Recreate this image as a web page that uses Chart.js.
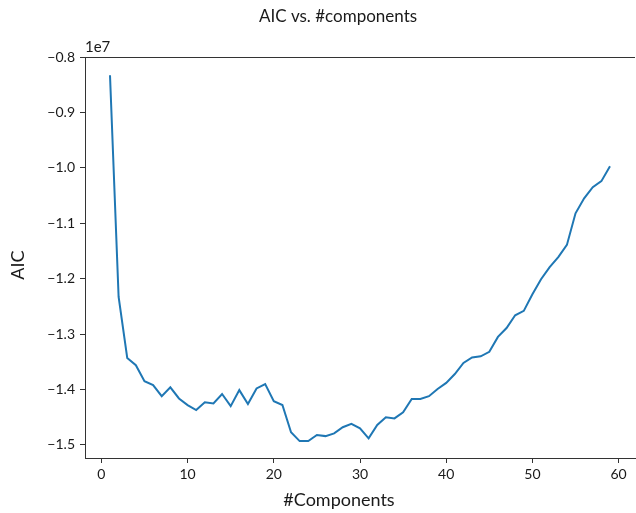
<!DOCTYPE html>
<html>
<head>
<meta charset="utf-8">
<script src="https://cdn.jsdelivr.net/npm/chart.js@4/dist/chart.umd.min.js"></script>
<style>
    html, body { margin: 0; padding: 0; background: #fff; }
    canvas { display: block; }
</style>
</head>
<body>
<canvas id="chart" width="636" height="513"></canvas>
<script>
// number of mixture components tried
const components = [
    1, 2, 3, 4, 5, 6, 7, 8, 9, 10,
    11, 12, 13, 14, 15, 16, 17, 18, 19, 20,
    21, 22, 23, 24, 25, 26, 27, 28, 29, 30,
    31, 32, 33, 34, 35, 36, 37, 38, 39, 40,
    41, 42, 43, 44, 45, 46, 47, 48, 49, 50,
    51, 52, 53, 54, 55, 56, 57, 58, 59,
];

// AIC, in units of 1e7 (as shown by the axis offset)
const aic = [
    -0.833, -1.233, -1.343, -1.356, -1.385, -1.392, -1.412, -1.396, -1.416, -1.428,
    -1.437, -1.423, -1.425, -1.408, -1.430, -1.401, -1.426, -1.398, -1.390, -1.421,
    -1.428, -1.477, -1.493, -1.493, -1.482, -1.484, -1.479, -1.468, -1.462, -1.470,
    -1.488, -1.464, -1.450, -1.452, -1.441, -1.417, -1.417, -1.412, -1.399, -1.388,
    -1.372, -1.352, -1.342, -1.340, -1.332, -1.305, -1.289, -1.266, -1.258, -1.228,
    -1.201, -1.179, -1.161, -1.139, -1.082, -1.055, -1.035, -1.024, -0.997,
];

const xTicks = [0, 10, 20, 30, 40, 50, 60];
const yTicks = [-1.5, -1.4, -1.3, -1.2, -1.1, -1.0, -0.9, -0.8];

const chartTitle = "AIC vs. #components";
const xLabel = "#Components";
const yLabel = "AIC";
const yOffsetLabel = "1e7";

const textColor = "#1a1a1a";
const axisColor = "#333";
const fontFamily = "Lato, 'Open Sans', sans-serif";

// title, axis labels, offset text and the top spine
const decorations = {
    id: "decorations",
    afterDraw(chart) {
        const { ctx, chartArea } = chart;
        ctx.save();
        ctx.strokeStyle = axisColor;
        ctx.lineWidth = 1;
        ctx.beginPath();
        ctx.moveTo(chartArea.left, chartArea.top + 0.5);
        ctx.lineTo(chartArea.right, chartArea.top + 0.5);
        ctx.stroke();

        ctx.fillStyle = textColor;
        ctx.textAlign = "center";
        ctx.textBaseline = "middle";
        ctx.font = "17px " + fontFamily;
        ctx.fillText(chartTitle, 338, 17);
        ctx.font = "18px " + fontFamily;
        ctx.fillText(xLabel, 339, 500);

        ctx.save();
        ctx.translate(18, 265);
        ctx.rotate(-Math.PI / 2);
        ctx.fillText(yLabel, 0, 0);
        ctx.restore();

        ctx.font = "15px " + fontFamily;
        ctx.textAlign = "left";
        ctx.textBaseline = "alphabetic";
        ctx.fillText(yOffsetLabel, chartArea.left, chartArea.top - 5);
        ctx.restore();
    },
};

const tickFont = { family: fontFamily, size: 14 };

new Chart(document.getElementById("chart"), {
    type: "line",
    plugins: [decorations],
    data: {
        datasets: [
            {
                label: yLabel,
                data: components.map((c, i) => ({ x: c, y: aic[i] })),
                borderColor: "#1f77b4",
                borderWidth: 2,
                pointRadius: 0,
                tension: 0,
                fill: false,
            },
        ],
    },
    options: {
        responsive: false,
        animation: false,
        layout: {
            padding: { top: 57, right: 1, bottom: 0, left: 0 },
        },
        plugins: {
            legend: { display: false },
            title: { display: false },
            tooltip: { enabled: false },
        },
        scales: {
            x: {
                type: "linear",
                min: -1.9,
                max: 61.9,
                afterBuildTicks: (s) => { s.ticks = xTicks.map((v) => ({ value: v })); },
                afterFit: (s) => { s.height = 55; },
                grid: {
                    drawOnChartArea: false,
                    drawTicks: true,
                    tickLength: 5,
                    color: axisColor,
                },
                border: { display: true, color: axisColor, width: 1 },
                ticks: {
                    color: textColor,
                    font: tickFont,
                    padding: 3,
                    maxRotation: 0,
                    autoSkip: false,
                },
            },
            y: {
                type: "linear",
                min: -1.5235,
                max: -0.8,
                afterBuildTicks: (s) => { s.ticks = yTicks.map((v) => ({ value: v })); },
                afterFit: (s) => { s.width = 85; },
                grid: {
                    drawOnChartArea: false,
                    drawTicks: true,
                    tickLength: 5,
                    color: axisColor,
                },
                border: { display: true, color: axisColor, width: 1 },
                ticks: {
                    color: textColor,
                    font: tickFont,
                    padding: 5,
                    autoSkip: false,
                    callback: (v) => (v < 0 ? "\u2212" : "") + Math.abs(v).toFixed(1),
                },
            },
        },
    },
});
</script>
</body>
</html>
